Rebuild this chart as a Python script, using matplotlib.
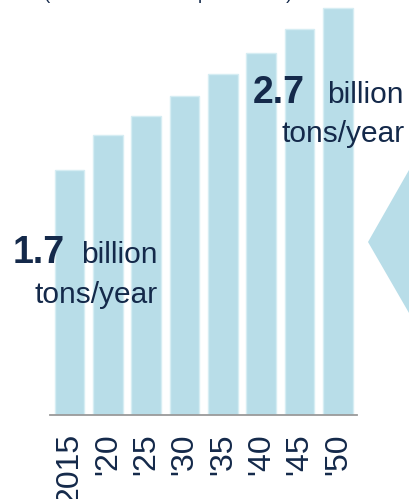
import matplotlib
matplotlib.use("Agg")
import matplotlib.pyplot as plt
from matplotlib.patches import Polygon

# data (billion tons per year)
years = ["2015", "'20", "'25", "'30", "'35", "'40", "'45", "'50"]
values = [1.70, 1.94, 2.07, 2.21, 2.36, 2.51, 2.67, 2.82]
start_label = ["1.7", "billion", "tons/year"]
end_label = ["2.7", "billion", "tons/year"]
subtitle = "(billion metric tons per annum)"

bar_color = "#b8dde8"
edge_color = "#d6edf3"
text_color = "#14294a"

plt.rcParams['font.family'] = ['Liberation Sans', 'DejaVu Sans']

W, H = 409, 499
fig = plt.figure(figsize=(W / 100, H / 100), dpi=100)


def fx(px):
    return px / W


def fy(py):
    return 1 - py / H


# axes: x from pixel 50 to 357, y from baseline 415 up to top edge
ax = fig.add_axes([fx(50), fy(415), fx(357) - fx(50), 415 / H])
ax.bar(range(len(values)), values, width=0.77, color=bar_color,
       edgecolor=edge_color, linewidth=1)
ax.set_xlim(-0.51, 7.5)
ax.set_ylim(0, 2.874)
ax.set_xticks(range(len(years)))
ax.set_xticklabels(years, rotation=90, fontsize=23, color=text_color,
                   va='top', ha='center')
ax.tick_params(axis='x', length=0, pad=13)
ax.set_yticks([])
for s in ['top', 'right', 'left']:
    ax.spines[s].set_visible(False)
ax.spines['bottom'].set_color('#9a9a9a')
ax.spines['bottom'].set_linewidth(1.3)
ax.set_facecolor('none')

# clipped subtitle at the top edge
fig.text(fx(44), fy(-1), subtitle, fontsize=13.3, color=text_color,
         ha='left', va='baseline')

# start annotation
fig.text(fx(12.5), fy(263), start_label[0], fontsize=27, fontweight='bold',
         color=text_color, ha='left', va='baseline')
fig.text(fx(158), fy(263), start_label[1], fontsize=21.5,
         color=text_color, ha='right', va='baseline')
fig.text(fx(158), fy(303), start_label[2], fontsize=21.5,
         color=text_color, ha='right', va='baseline')

# end annotation
fig.text(fx(253), fy(103), end_label[0], fontsize=27, fontweight='bold',
         color=text_color, ha='left', va='baseline')
fig.text(fx(404), fy(103), end_label[1], fontsize=21.5,
         color=text_color, ha='right', va='baseline')
fig.text(fx(405), fy(142), end_label[2], fontsize=21.5,
         color=text_color, ha='right', va='baseline')

# arrow-like triangle on the right edge
tri = Polygon([[fx(368), fy(242)], [fx(409), fy(170)], [fx(409), fy(313)]],
              closed=True, transform=fig.transFigure, facecolor=bar_color,
              edgecolor='none')
fig.patches.append(tri)

fig.savefig("out.png", dpi=100)
